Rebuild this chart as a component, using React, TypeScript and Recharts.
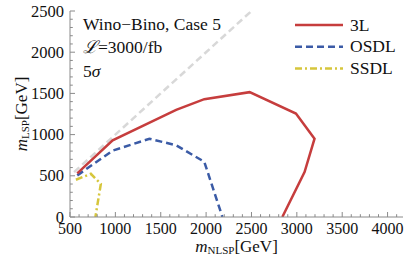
import React from 'react';
import { LineChart, Line, XAxis, YAxis, Legend } from 'recharts';

// ---- data (m_NLSP [GeV], m_LSP [GeV]) ----
const threeLX = [580, 970, 1670, 1980, 2480, 2990, 3195, 3085, 2840];
const threeLY = [530, 930, 1300, 1430, 1515, 1255, 950, 545, 0];
const osdlX = [580, 970, 1375, 1670, 1980, 2180];
const osdlY = [505, 805, 950, 870, 670, 0];
const ssdlX = [565, 730, 840, 780];
const ssdlY = [452, 524, 402, 0];
const diagX = [545, 2500];
const diagY = [545, 2500];

const xMajorTicks = [500, 1000, 1500, 2000, 2500, 3000, 3500, 4000];
const yMajorTicks = [0, 500, 1000, 1500, 2000, 2500];
const xDomain: [number, number] = [500, 4170];
const yDomain: [number, number] = [0, 2500];

const xAllTicks = Array.from({ length: 37 }, (_, i) => 500 + i * 100);
const yAllTicks = Array.from({ length: 26 }, (_, i) => i * 100);

const zip = (xs: number[], ys: number[]) => xs.map((x, i) => ({ x, y: ys[i] }));
const threeL = zip(threeLX, threeLY);
const osdl = zip(osdlX, osdlY);
const ssdl = zip(ssdlX, ssdlY);
const diag = zip(diagX, diagY);

const series = [
  { name: '3L', color: '#c63d3d', dash: undefined as string | undefined },
  { name: 'OSDL', color: '#3b5ba6', dash: '7 4' },
  { name: 'SSDL', color: '#d6c63c', dash: '7 3 2 3' },
];

const FONT = 'Liberation Serif, Times New Roman, Times, serif';
const FRAME = '#8a8a8a';

const isMajor = (v: number) => v % 500 === 0;

const BottomTick = (p: any) => {
  const { x, y, payload } = p;
  const v = payload.value;
  const m = xMajorTicks.includes(v);
  return (
    <g>
      <line x1={x} x2={x} y1={y} y2={y - (m ? 5 : 2.8)} stroke={FRAME} strokeWidth={1} />
      {m && (
        <text x={x} y={y + 17} textAnchor="middle" fontFamily={FONT} fontSize={16} fill="#111">
          {v}
        </text>
      )}
    </g>
  );
};
const TopTick = (p: any) => {
  const { x, y, payload } = p;
  const m = isMajor(payload.value);
  return <line x1={x} x2={x} y1={y} y2={y + (m ? 5 : 2.8)} stroke={FRAME} strokeWidth={1} />;
};
const LeftTick = (p: any) => {
  const { x, y, payload } = p;
  const v = payload.value;
  const m = yMajorTicks.includes(v);
  return (
    <g>
      <line x1={x} x2={x + (m ? 5 : 2.8)} y1={y} y2={y} stroke={FRAME} strokeWidth={1} />
      {m && (
        <text x={x - 6} y={y + 5.5} textAnchor="end" fontFamily={FONT} fontSize={16.5} fill="#111">
          {v}
        </text>
      )}
    </g>
  );
};
const RightTick = (p: any) => {
  const { x, y, payload } = p;
  const m = isMajor(payload.value);
  return <line x1={x} x2={x - (m ? 5 : 2.8)} y1={y} y2={y} stroke={FRAME} strokeWidth={1} />;
};

const LegendContent = () => (
  <svg width={120} height={75} style={{ overflow: 'visible' }}>
    {series.map((s, i) => {
      const cy = 17 + i * 21.7;
      return (
        <g key={s.name}>
          <line x1={7} x2={55} y1={cy} y2={cy} stroke={s.color} strokeWidth={2.5} strokeDasharray={s.dash} />
          <text x={62} y={cy + 5.5} fontFamily={FONT} fontSize={17.5} fill="#111">
            {s.name}
          </text>
        </g>
      );
    })}
  </svg>
);

export default function App() {
  return (
    <div style={{ position: 'absolute', left: 0, top: 0, width: 407, height: 267, background: '#fff' }}>
      <LineChart width={407} height={267} margin={{ top: 11, right: 4, bottom: 0, left: 0 }}>
        <XAxis
          xAxisId="b"
          type="number"
          dataKey="x"
          domain={xDomain}
          allowDataOverflow
          ticks={xAllTicks}
          interval={0}
          tickSize={0}
          tickMargin={0}
          tickLine={false}
          tick={BottomTick}
          axisLine={{ stroke: FRAME }}
          height={50}
          orientation="bottom"
          label={{
            position: 'insideBottom',
            content: (props: any) => {
              const vb = props.viewBox || {};
              const cx = vb.x + vb.width / 2;
              return (
                <text x={cx} y={252} textAnchor="middle" fontFamily={FONT} fontSize={17} fill="#111">
                  <tspan fontStyle="italic">m</tspan>
                  <tspan fontSize={11} dy={2}>NLSP</tspan>
                  <tspan dy={-2}>[GeV]</tspan>
                </text>
              );
            },
          }}
        />
        <XAxis
          xAxisId="t"
          type="number"
          dataKey="x"
          domain={xDomain}
          allowDataOverflow
          ticks={xAllTicks}
          interval={0}
          tickSize={0}
          tickMargin={0}
          tickLine={false}
          tick={TopTick}
          axisLine={{ stroke: FRAME }}
          height={0}
          orientation="top"
        />
        <YAxis
          yAxisId="l"
          type="number"
          dataKey="y"
          domain={yDomain}
          allowDataOverflow
          ticks={yAllTicks}
          interval={0}
          tickSize={0}
          tickMargin={0}
          tickLine={false}
          tick={LeftTick}
          axisLine={{ stroke: FRAME }}
          width={70}
          orientation="left"
          label={{
            position: 'insideLeft',
            content: (props: any) => {
              const vb = props.viewBox || {};
              const cy = vb.y + vb.height / 2;
              return (
                <text
                  x={27}
                  y={cy}
                  transform={`rotate(-90 27 ${cy})`}
                  textAnchor="middle"
                  fontFamily={FONT}
                  fontSize={17}
                  fill="#111"
                >
                  <tspan fontStyle="italic">m</tspan>
                  <tspan fontSize={11} dy={2}>LSP</tspan>
                  <tspan dy={-2}>[GeV]</tspan>
                </text>
              );
            },
          }}
        />
        <YAxis
          yAxisId="r"
          type="number"
          dataKey="y"
          domain={yDomain}
          allowDataOverflow
          ticks={yAllTicks}
          interval={0}
          tickSize={0}
          tickMargin={0}
          tickLine={false}
          tick={RightTick}
          axisLine={{ stroke: FRAME }}
          width={0}
          orientation="right"
        />
        <Line
          xAxisId="b"
          yAxisId="l"
          data={diag}
          dataKey="y"
          name="diag"
          stroke="#d8d8d8"
          strokeWidth={2.5}
          strokeDasharray="7 4"
          dot={false}
          legendType="none"
          isAnimationActive={false}
        />
        <Line
          xAxisId="b"
          yAxisId="l"
          data={ssdl}
          dataKey="y"
          name="SSDL"
          stroke={series[2].color}
          strokeWidth={2.5}
          strokeDasharray={series[2].dash}
          dot={false}
          isAnimationActive={false}
        />
        <Line
          xAxisId="b"
          yAxisId="l"
          data={osdl}
          dataKey="y"
          name="OSDL"
          stroke={series[1].color}
          strokeWidth={2.5}
          strokeDasharray={series[1].dash}
          dot={false}
          isAnimationActive={false}
        />
        <Line
          xAxisId="b"
          yAxisId="l"
          data={threeL}
          dataKey="y"
          name="3L"
          stroke={series[0].color}
          strokeWidth={2.5}
          dot={false}
          isAnimationActive={false}
        />
        <Legend
          layout="horizontal"
          verticalAlign="middle"
          align="center"
          content={LegendContent}
          wrapperStyle={{ top: 8, left: 288, width: 120, height: 75 }}
        />
      </LineChart>
      <svg
        width={407}
        height={267}
        style={{ position: 'absolute', left: 0, top: 0, pointerEvents: 'none' }}
      >
        <text x={83} y={30} fontFamily={FONT} fontSize={17.5} fill="#111">
          Wino−Bino, Case 5
        </text>
        <text x={83} y={53} fontFamily={FONT} fontSize={17.5} fill="#111">
          <tspan fontStyle="italic">ℒ</tspan>=3000/fb
        </text>
        <text x={83} y={77} fontFamily={FONT} fontSize={17.5} fill="#111">
          5<tspan fontStyle="italic">σ</tspan>
        </text>
      </svg>
    </div>
  );
}
